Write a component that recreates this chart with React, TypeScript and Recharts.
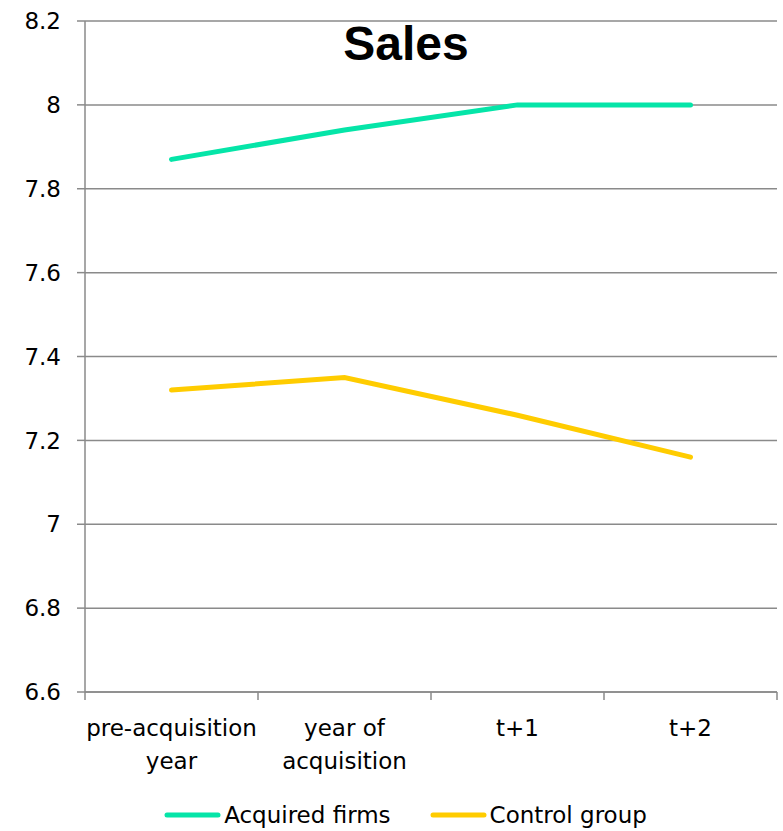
import { CartesianGrid, Legend, Line, LineChart, XAxis, YAxis } from "recharts"

const categories = ["pre-acquisition year", "year of acquisition", "t+1", "t+2"]
const categoryLines = [["pre-acquisition", "year"], ["year of", "acquisition"], ["t+1"], ["t+2"]]
const acquiredFirms = [7.87, 7.94, 8.0, 8.0]
const controlGroup = [7.32, 7.35, 7.26, 7.16]
const yTicks = [6.6, 6.8, 7, 7.2, 7.4, 7.6, 7.8, 8, 8.2]
const xTicks = [0, 0.5, 1, 1.5, 2, 2.5, 3, 3.5, 4]

const seriesInfo = [
  { key: "acquired", name: "Acquired firms", color: "#05E5A8" },
  { key: "control", name: "Control group", color: "#FFCC00" },
]

const FONT = "'DejaVu Sans', sans-serif"
const GRAY = "#8a8a8a"

// points sit in the middle of each category slot, tick marks on the boundaries
const chartData = categories.map((name, i) => ({
  name,
  x: i + 0.5,
  acquired: acquiredFirms[i],
  control: controlGroup[i],
}))

function XTick(props: any) {
  const { x, y, payload } = props
  const v = payload.value
  if (Number.isInteger(v)) {
    return <line x1={x} y1={y} x2={x} y2={y + 8} stroke={GRAY} strokeWidth={1.5} />
  }
  const lines = categoryLines[Math.floor(v)]
  return (
    <text x={x} y={y} textAnchor="middle" fontFamily={FONT} fontSize={23} fill="#000">
      {lines.map((l, i) => (
        <tspan key={i} x={x} dy={i === 0 ? 44 : 33}>
          {l}
        </tspan>
      ))}
    </text>
  )
}

function LegendContent() {
  return (
    <div
      style={{
        display: "flex",
        justifyContent: "center",
        alignItems: "center",
        height: 40,
        paddingTop: 8,
        paddingLeft: 34,
        boxSizing: "border-box",
      }}
    >
      {seriesInfo.map((s, i) => (
        <div key={s.key} style={{ display: "flex", alignItems: "center", marginLeft: i === 0 ? 0 : 39 }}>
          <svg width={57} height={8}>
            <line x1={3} y1={4} x2={54} y2={4} stroke={s.color} strokeWidth={5} strokeLinecap="round" />
          </svg>
          <span style={{ fontFamily: FONT, fontSize: 23, color: "#000", marginLeft: 3 }}>{s.name}</span>
        </div>
      ))}
    </div>
  )
}

export default function App() {
  return (
    <div style={{ position: "absolute", left: 0, top: 0, width: 783, height: 831, background: "#fff" }}>
      <LineChart width={783} height={831} data={chartData} margin={{ top: 21, right: 6, left: 0, bottom: 0 }}>
        <CartesianGrid vertical={false} stroke={GRAY} strokeWidth={1.5} />
        <XAxis
          dataKey="x"
          type="number"
          domain={[0, 4]}
          ticks={xTicks}
          interval={0}
          height={99}
          tickSize={0}
          tickMargin={0}
          tickLine={false}
          axisLine={{ stroke: GRAY, strokeWidth: 1.5 }}
          tick={<XTick />}
        />
        <YAxis
          domain={[6.6, 8.2]}
          ticks={yTicks}
          interval={0}
          width={85}
          tickSize={8}
          tickMargin={16}
          tickLine={{ stroke: GRAY, strokeWidth: 1.5 }}
          axisLine={{ stroke: GRAY, strokeWidth: 1.5 }}
          tick={{ fill: "#000", fontSize: 23, fontFamily: FONT }}
          tickFormatter={(v: number) => String(v)}
        />
        {seriesInfo.map((s) => (
          <Line
            key={s.key}
            type="linear"
            dataKey={s.key}
            name={s.name}
            stroke={s.color}
            strokeWidth={5}
            strokeLinecap="round"
            dot={false}
            activeDot={false}
            isAnimationActive={false}
          />
        ))}
        <Legend verticalAlign="bottom" height={40} content={<LegendContent />} />
      </LineChart>
      <svg width={783} height={80} style={{ position: "absolute", left: 0, top: 0, pointerEvents: "none" }}>
        <text x={406} y={60} textAnchor="middle" fontFamily="'Liberation Sans', Arial, sans-serif" fontWeight="bold" fontSize={48} fill="#000">
          Sales
        </text>
      </svg>
    </div>
  )
}
